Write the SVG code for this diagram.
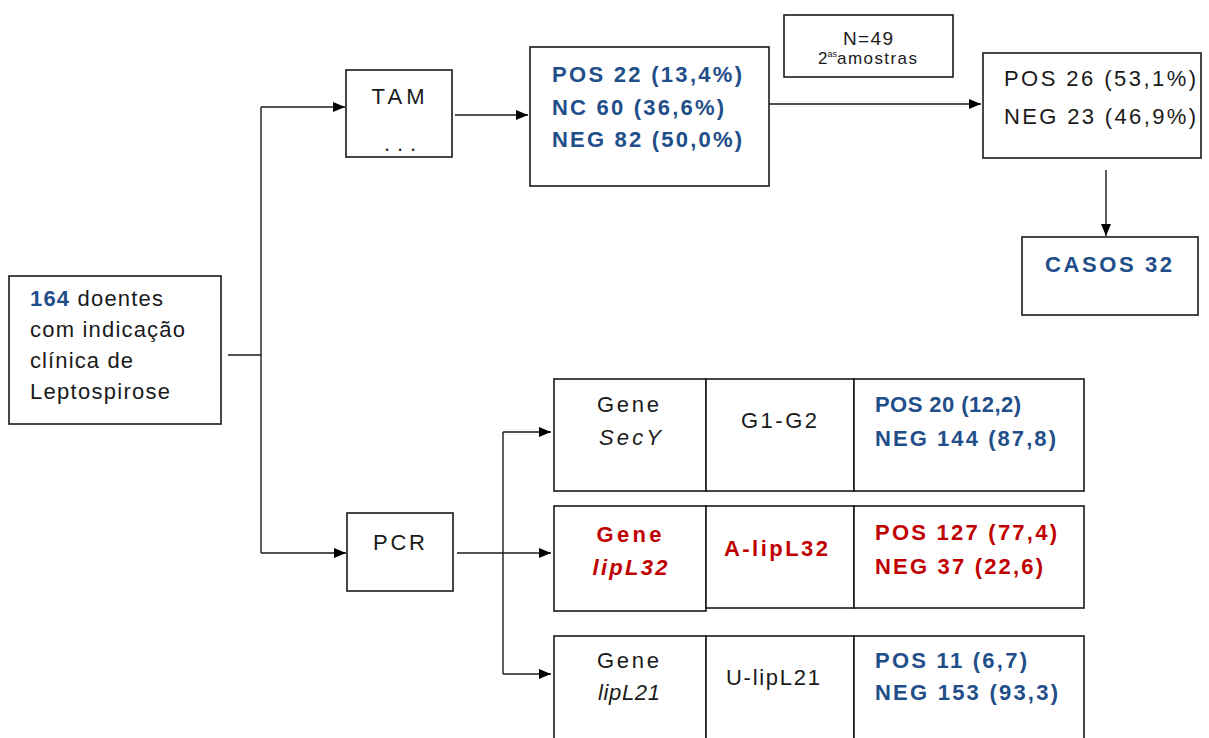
<svg xmlns="http://www.w3.org/2000/svg" width="1209" height="738" viewBox="0 0 1209 738">
  <style>
    .box { fill: #ffffff; stroke: #1a1a1a; stroke-width: 1.6; }
    .ln { fill: none; stroke: #1a1a1a; stroke-width: 1.4; }
    text { font-family: "Liberation Sans", Arial, sans-serif; font-size: 22px; fill: #1a1a1a; }
    .b { font-weight: bold; fill: #1F4E89; }
    .r { font-weight: bold; fill: #C00000; }
    .i { font-style: italic; }
    .m { text-anchor: middle; }
  </style>
  <defs>
    <marker id="arr" markerUnits="userSpaceOnUse" markerWidth="13" markerHeight="11" refX="12" refY="5" orient="auto">
      <path d="M0,0 L12,5 L0,10 Z" fill="#000"/>
    </marker>
  </defs>

  <rect width="1209" height="738" fill="#ffffff"/>

  <!-- connectors -->
  <g id="connectors">
    <line class="ln" x1="228" y1="355" x2="261" y2="355"/>
    <polyline class="ln" points="261,107 261,553"/>
    <line class="ln" x1="261" y1="107" x2="345" y2="107" marker-end="url(#arr)"/>
    <line class="ln" x1="261" y1="553" x2="346" y2="553" marker-end="url(#arr)"/>
    <line class="ln" x1="455" y1="115" x2="528" y2="115" marker-end="url(#arr)"/>
    <line class="ln" x1="769" y1="104" x2="981" y2="104" marker-end="url(#arr)"/>
    <line class="ln" x1="1106" y1="170" x2="1106" y2="236" marker-end="url(#arr)"/>
    <line class="ln" x1="457" y1="553" x2="551" y2="553" marker-end="url(#arr)"/>
    <polyline class="ln" points="503,432 503,674"/>
    <line class="ln" x1="503" y1="432" x2="551" y2="432" marker-end="url(#arr)"/>
    <line class="ln" x1="503" y1="674" x2="551" y2="674" marker-end="url(#arr)"/>
  </g>

  <!-- patients -->
  <g id="doentes">
    <rect class="box" x="9" y="276" width="212" height="148"/>
    <text x="30" y="306" textLength="133" lengthAdjust="spacing"><tspan class="b">164</tspan> doentes</text>
    <text x="30" y="337" textLength="155" lengthAdjust="spacing">com indicação</text>
    <text x="30" y="368" textLength="103" lengthAdjust="spacing">clínica de</text>
    <text x="30" y="399" textLength="140" lengthAdjust="spacing">Leptospirose</text>
  </g>

  <g id="tam">
    <rect class="box" x="346" y="70" width="106" height="87"/>
    <text class="m" x="398" y="104" textLength="53" lengthAdjust="spacing">TAM</text>
    <text class="m" x="400" y="151" textLength="32" lengthAdjust="spacing">. . .</text>
  </g>

  <g id="tam-resultado">
    <rect class="box" x="530" y="47" width="239" height="139"/>
    <text class="b" x="552" y="82" textLength="190" lengthAdjust="spacing">POS 22 (13,4%)</text>
    <text class="b" x="552" y="115" textLength="172" lengthAdjust="spacing">NC 60 (36,6%)</text>
    <text class="b" x="552" y="147" textLength="190" lengthAdjust="spacing">NEG 82  (50,0%)</text>
  </g>

  <g id="segundas-amostras">
    <rect class="box" x="784" y="15" width="169" height="62"/>
    <text class="m" x="868" y="45" style="font-size:19px" textLength="50" lengthAdjust="spacing">N=49</text>
    <text x="818" y="64" style="font-size:17px">2<tspan dy="-7" style="font-size:9px">as</tspan><tspan dy="7" textLength="80" lengthAdjust="spacing">amostras</tspan></text>
  </g>

  <g id="segundas-resultado">
    <rect class="box" x="983" y="53" width="218" height="105"/>
    <text x="1004" y="86" textLength="192" lengthAdjust="spacing">POS 26 (53,1%)</text>
    <text x="1004" y="124" textLength="192" lengthAdjust="spacing">NEG 23  (46,9%)</text>
  </g>

  <g id="casos">
    <rect class="box" x="1022" y="237" width="176" height="78"/>
    <text class="b" x="1045" y="272" textLength="127" lengthAdjust="spacing">CASOS 32</text>
  </g>

  <g id="pcr">
    <rect class="box" x="347" y="513" width="106" height="78"/>
    <text class="m" x="399" y="550" textLength="52" lengthAdjust="spacing">PCR</text>
  </g>

  <!-- SecY row -->
  <g id="secy">
    <rect class="box" x="554" y="379" width="152" height="112"/>
    <rect class="box" x="706" y="379" width="148" height="112"/>
    <rect class="box" x="854" y="379" width="230" height="112"/>
    <text class="m" x="628" y="412" textLength="62" lengthAdjust="spacing">Gene</text>
    <text class="m i" x="630" y="445" textLength="62" lengthAdjust="spacing">SecY</text>
    <text class="m" x="779" y="428" textLength="76" lengthAdjust="spacing">G1-G2</text>
    <text class="b" x="875" y="412" textLength="146" lengthAdjust="spacing">POS 20 (12,2)</text>
    <text class="b" x="875" y="446" textLength="181" lengthAdjust="spacing">NEG 144 (87,8)</text>
  </g>

  <!-- lipL32 row -->
  <g id="lipl32">
    <rect class="box" x="554" y="506" width="152" height="105"/>
    <rect class="box" x="706" y="506" width="148" height="102"/>
    <rect class="box" x="854" y="506" width="230" height="102"/>
    <text class="r m" x="629" y="542" textLength="65" lengthAdjust="spacing">Gene</text>
    <text class="r m i" x="630" y="575" textLength="75" lengthAdjust="spacing">lipL32</text>
    <text class="r m" x="776" y="556" textLength="104" lengthAdjust="spacing">A-lipL32</text>
    <text class="r" x="875" y="540" textLength="182" lengthAdjust="spacing">POS 127 (77,4)</text>
    <text class="r" x="875" y="574" textLength="168" lengthAdjust="spacing">NEG 37  (22,6)</text>
  </g>

  <!-- lipL21 row -->
  <g id="lipl21">
    <rect class="box" x="554" y="636" width="152" height="110"/>
    <rect class="box" x="706" y="636" width="148" height="110"/>
    <rect class="box" x="854" y="636" width="230" height="110"/>
    <text class="m" x="628" y="668" textLength="62" lengthAdjust="spacing">Gene</text>
    <text class="m i" x="629" y="700" textLength="62" lengthAdjust="spacing">lipL21</text>
    <text class="m" x="773" y="685" textLength="94" lengthAdjust="spacing">U-lipL21</text>
    <text class="b" x="875" y="668" textLength="152" lengthAdjust="spacing">POS 11 (6,7)</text>
    <text class="b" x="875" y="700" textLength="183" lengthAdjust="spacing">NEG 153 (93,3)</text>
  </g>
</svg>
